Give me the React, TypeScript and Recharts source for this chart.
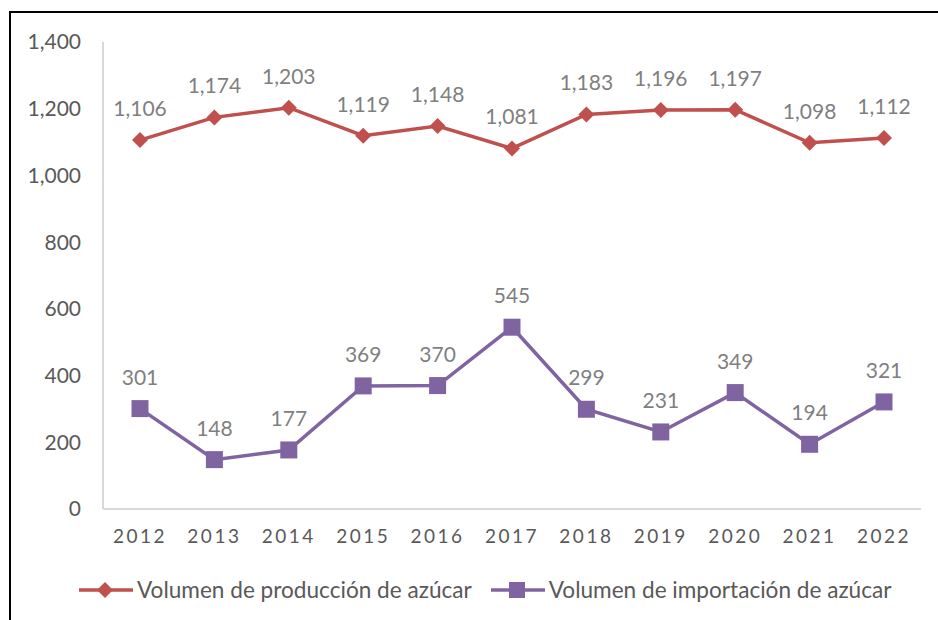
import { LineChart, Line, XAxis, YAxis, LabelList } from "recharts";

const years = ["2012", "2013", "2014", "2015", "2016", "2017", "2018", "2019", "2020", "2021", "2022"];
const produccion = [1106, 1174, 1203, 1119, 1148, 1081, 1183, 1196, 1197, 1098, 1112];
const importacion = [301, 148, 177, 369, 370, 545, 299, 231, 349, 194, 321];
const yTicks = [0, 200, 400, 600, 800, 1000, 1200, 1400];

const RED = "#C0504D";
const PURPLE = "#8064A2";
const FONT = "Lato, 'Open Sans', sans-serif";

const data = years.map((year, i) => ({
  year,
  produccion: produccion[i],
  importacion: importacion[i],
}));

const fmt = (v: number) => v.toLocaleString("en-US");

function Diamond(props: any) {
  const { cx, cy } = props;
  if (cx == null || cy == null) return null;
  return <polygon points={`${cx},${cy - 8} ${cx + 8},${cy} ${cx},${cy + 8} ${cx - 8},${cy}`} fill={RED} />;
}

function Square(props: any) {
  const { cx, cy } = props;
  if (cx == null || cy == null) return null;
  return <rect x={cx - 8.5} y={cy - 8.5} width={17} height={17} fill={PURPLE} />;
}

function PointLabel(props: any) {
  const { x, y, value } = props;
  return (
    <text x={x} y={y - 24} textAnchor="middle" fontSize={21} fontFamily={FONT} fill="#7f7f7f">
      {fmt(value)}
    </text>
  );
}

export default function App() {
  return (
    <div style={{ position: "absolute", left: 0, top: 0, width: 938, height: 620, overflow: "hidden", background: "#fff" }}>
      <div style={{ position: "absolute", left: 9, top: 11, width: 1000, height: 700, border: "2px solid #000", boxSizing: "border-box" }} />
      <div style={{ position: "absolute", left: 0, top: 0 }}>
        <LineChart width={938} height={620} data={data} margin={{ top: 42, right: 17, left: 0, bottom: 71 }}>
          <XAxis
            dataKey="year"
            height={40}
            padding={{ left: 37, right: 37 }}
            tickSize={0}
            tickMargin={21}
            axisLine={{ stroke: "#d9d9d9", strokeWidth: 2 }}
            tickLine={false}
            tick={{ fontSize: 19, fontFamily: FONT, fill: "#595959", letterSpacing: 2.5 }}
          />
          <YAxis
            width={103}
            domain={[0, 1400]}
            ticks={yTicks}
            tickSize={0}
            tickMargin={22}
            tickFormatter={fmt}
            axisLine={{ stroke: "#d9d9d9", strokeWidth: 2 }}
            tickLine={false}
            tick={{ fontSize: 21, fontFamily: FONT, fill: "#595959" }}
          />
          <Line
            type="linear"
            dataKey="produccion"
            stroke={RED}
            strokeWidth={3.5}
            dot={<Diamond />}
            activeDot={false}
            isAnimationActive={false}
          >
            <LabelList dataKey="produccion" content={<PointLabel />} />
          </Line>
          <Line
            type="linear"
            dataKey="importacion"
            stroke={PURPLE}
            strokeWidth={3.5}
            dot={<Square />}
            activeDot={false}
            isAnimationActive={false}
          >
            <LabelList dataKey="importacion" content={<PointLabel />} />
          </Line>
        </LineChart>
      </div>
      <div style={{ position: "absolute", left: 78, top: 576, display: "flex", alignItems: "center", fontFamily: FONT, fontSize: 22.6, color: "#595959", whiteSpace: "nowrap" }}>
        <svg width={56} height={24}>
          <line x1={1} y1={12} x2={55} y2={12} stroke={RED} strokeWidth={3.5} />
          <polygon points="27,4 35,12 27,20 19,12" fill={RED} />
        </svg>
        <span style={{ marginLeft: 3 }}>Volumen de producción de azúcar</span>
        <svg width={56} height={24} style={{ marginLeft: 18 }}>
          <line x1={1} y1={12} x2={55} y2={12} stroke={PURPLE} strokeWidth={3.5} />
          <rect x={19} y={4} width={16} height={16} fill={PURPLE} />
        </svg>
        <span style={{ marginLeft: 3 }}>Volumen de importación de azúcar</span>
      </div>
    </div>
  );
}
